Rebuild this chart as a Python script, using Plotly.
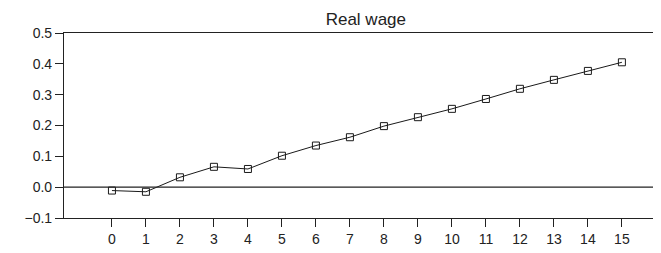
import plotly.graph_objects as go

periods = list(range(16))
real_wage = [-0.011, -0.015, 0.032, 0.066, 0.059, 0.102, 0.135, 0.162, 0.198,
             0.227, 0.254, 0.286, 0.319, 0.348, 0.377, 0.405]
y_ticks = [-0.1, 0.0, 0.1, 0.2, 0.3, 0.4, 0.5]
y_tick_labels = ["\u22120.1", "0.0", "0.1", "0.2", "0.3", "0.4", "0.5"]
title_text = "Real wage"

fig = go.Figure()
fig.add_trace(go.Scatter(
    x=periods, y=real_wage, mode="lines+markers",
    line=dict(color="#1a1a1a", width=1),
    marker=dict(symbol="square-open", size=7, color="#1a1a1a", line=dict(width=1)),
    showlegend=False,
))

fig.add_hline(y=0, line=dict(color="#222222", width=1.2))

# page body has an 8px default margin, so the figure is sized to fill the rest
fig.update_layout(
    width=653, height=245,
    margin=dict(l=56, r=0, t=25, b=35),
    paper_bgcolor="white", plot_bgcolor="white",
    font=dict(family="Liberation Sans, Arial, sans-serif", size=14, color="#222222"),
    title=dict(text=title_text, x=0.548, xanchor="center", y=0.955, yanchor="middle",
               font=dict(size=17, color="#222222")),
)
fig.update_xaxes(
    range=[-1.41, 16.15], tickvals=periods, ticktext=[str(p) for p in periods],
    showgrid=False, zeroline=False, showline=True, mirror=True,
    linecolor="#222222", linewidth=1.2,
    ticks="outside", ticklen=8, tickcolor="#222222",
)
fig.update_yaxes(
    range=[-0.1, 0.5], tickvals=y_ticks, ticktext=y_tick_labels,
    showgrid=False, zeroline=False, showline=True,
    linecolor="#222222", linewidth=1.2,
    ticks="outside", ticklen=8, tickcolor="#222222",
)

fig.write_html("out.html")
